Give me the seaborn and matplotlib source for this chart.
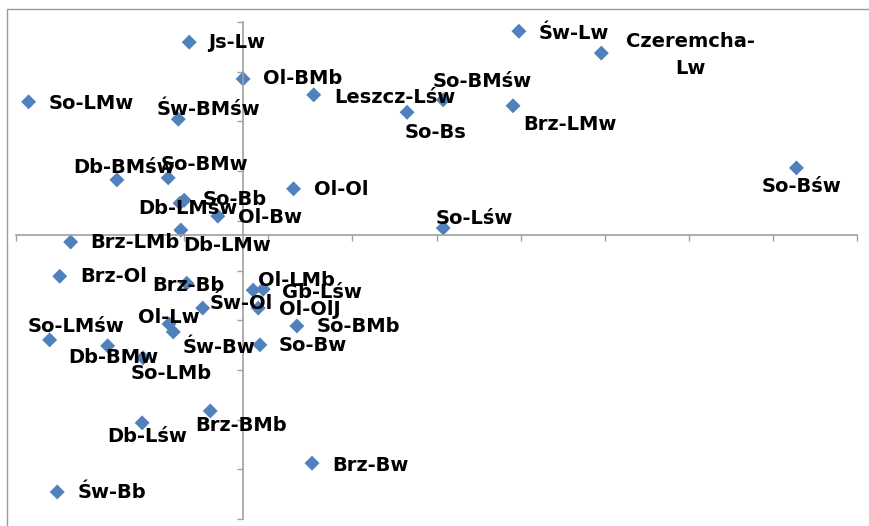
import matplotlib
matplotlib.use('Agg')
import matplotlib.pyplot as plt
from matplotlib.patches import Rectangle
import numpy as np
import pandas as pd
import seaborn as sns

names = ['Js-Lw', 'Ol-BMb', 'So-LMw', 'Leszcz-Lśw', 'Św-BMśw', 'So-Bs', 'So-BMśw',
         'Św-Lw', 'Czeremcha-\nLw', 'Brz-LMw', 'So-Bśw', 'Db-BMśw', 'So-BMw', 'Ol-Ol',
         'Db-LMśw', 'So-Bb', 'Ol-Bw', 'Db-LMw', 'Brz-LMb', 'So-Lśw', 'Brz-Ol', 'Brz-Bb',
         'Ol-LMb', 'Gb-Lśw', 'Św-Ol', 'Ol-OlJ', 'So-BMb', 'Ol-Lw', 'Św-Bw', 'So-LMśw',
         'Db-BMw', 'So-LMb', 'So-Bw', 'Brz-BMb', 'Db-Lśw', 'Brz-Bw', 'Św-Bb']
x_vals = [-0.64, 0.00, -2.55, 0.84, -0.77, 1.95, 2.38,
          3.28, 4.26, 3.21, 6.58, -1.50, -0.89, 0.60,
          -0.75, -0.70, -0.30, -0.74, -2.05, 2.38, -2.18, -0.67,
          0.12, 0.24, -0.48, 0.18, 0.64, -0.88, -0.83, -2.30,
          -1.61, -1.19, 0.20, -0.39, -1.20, 0.82, -2.21]
y_vals = [3.88, 3.14, 2.68, 2.82, 2.33, 2.47, 2.72,
          4.10, 3.66, 2.60, 1.35, 1.11, 1.15, 0.93,
          0.64, 0.70, 0.38, 0.10, -0.14, 0.14, -0.83, -0.97,
          -1.11, -1.09, -1.47, -1.47, -1.83, -1.79, -1.95, -2.11,
          -2.23, -2.47, -2.21, -3.54, -3.78, -4.59, -5.17]

# label placement (pixels from the marker: dx, dy)
label_dx = [19, 20, 20, 21, -22, -2, -11,
            20, 89, 10, -35, -44, -8, 20,
            -42, 18, 20, 2, 20, -8, 21, -34,
            5, 19, 7, 21, 20, -31, 9, -22,
            -39, -12, 19, -15, -35, 20, 20]
label_dy = [0, 0, -2, -3, 10, -20, 18,
            -2, -2, -19, -19, 12, 13, -1,
            -5, 1, -1, -15, -1, 10, 0, -2,
            10, -3, 5, -1, -1, 6, -16, 13,
            -12, -16, -1, -15, -14, -2, -1]

df = pd.DataFrame({'name': names, 'x': x_vals, 'y': y_vals})

sns.set_style('white')
plt.rcParams['font.family'] = ['DejaVu Sans']

W, H = 869, 526
fig = plt.figure(figsize=(W / 100, H / 100), dpi=100)
ax = fig.add_axes([16 / W, (H - 519) / H, (857 - 16) / W, (519 - 22) / H])

sns.scatterplot(data=df, x='x', y='y', marker='D', s=58, color='#4F81BD',
                edgecolor='none', linewidth=0, ax=ax, legend=False, clip_on=False)

for i, row in df.iterrows():
    ha = 'center' if '\n' in row['name'] else 'left'
    ax.annotate(row['name'], (row['x'], row['y']), xytext=(label_dx[i], label_dy[i]),
                textcoords='offset pixels', ha=ha, va='center', fontsize=14,
                fontweight='bold', color='black', linespacing=1.55,
                multialignment='center')

ax.set_xlim(-2.70, 7.30)
ax.set_ylim(-5.714, 4.286)
ax.set_xticks(np.arange(-2.70, 7.31, 1.0))
ax.set_yticks(np.arange(-5.714, 4.29, 1.0))
ax.set_xticklabels([])
ax.set_yticklabels([])
ax.set_xlabel('')
ax.set_ylabel('')

for side in ['top', 'right']:
    ax.spines[side].set_visible(False)
ax.spines['left'].set_position(('data', 0))
ax.spines['bottom'].set_position(('data', 0))
for side in ['left', 'bottom']:
    ax.spines[side].set_color('#a0a0a0')
    ax.spines[side].set_linewidth(1.2)
ax.tick_params(axis='both', direction='out', length=4, width=1.0, color='#a0a0a0',
               bottom=True, left=True)

# chart border (cut off at the right and bottom)
fig.patches.append(Rectangle((7 / W, -0.1), 1.2, (H - 9) / H + 0.1, transform=fig.transFigure,
                             fill=False, edgecolor='#9a9a9a', linewidth=1.0, zorder=0))

fig.savefig('out.png', dpi=100)
